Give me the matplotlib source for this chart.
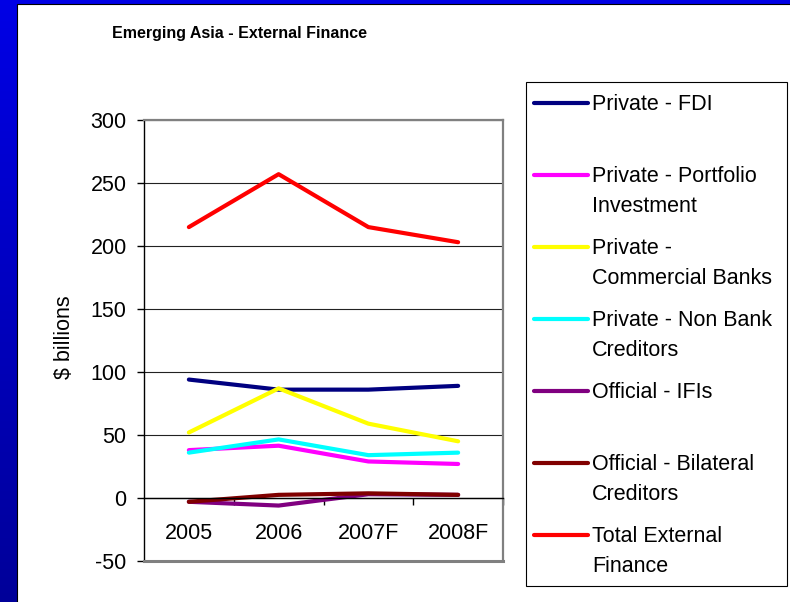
import numpy as np
import matplotlib
matplotlib.use("Agg")
import matplotlib.pyplot as plt
from matplotlib.lines import Line2D
from matplotlib.patches import Rectangle

plt.rcParams['font.family'] = ['Liberation Sans', 'DejaVu Sans']

years = ["2005", "2006", "2007F", "2008F"]
fdi = [94, 86, 86, 89]
portfolio = [38, 41.5, 29, 27]
banks = [52, 87, 59, 45]
non_bank = [36, 46.5, 34, 36]
ifis = [-3, -6, 3, 2.5]
bilateral = [-3, 2.5, 3.7, 2.5]
total = [215, 257, 215, 203]

series = [fdi, portfolio, banks, non_bank, ifis, bilateral, total]
labels = ["Private - FDI", "Private - Portfolio\nInvestment", "Private -\nCommercial Banks",
          "Private - Non Bank\nCreditors", "Official - IFIs", "Official - Bilateral\nCreditors",
          "Total External\nFinance"]
colors = ["#000080", "#FF00FF", "#FFFF00", "#00FFFF", "#800080", "#800000", "#FF0000"]
yticks = [-50, 0, 50, 100, 150, 200, 250, 300]

W, H = 790, 602
fig = plt.figure(figsize=(W / 100, H / 100), dpi=100)


def fx(x):
    return x / W


def fy(y):
    return 1 - y / H


# slide background: blue gradient with a white panel
bg = fig.add_axes([0, 0, 1, 1], zorder=0)
grad = np.linspace(0, 1, 256)[:, None]
cols = np.zeros((256, 1, 3))
cols[:, 0, 2] = 0.90 - 0.30 * grad[:, 0]
bg.imshow(cols, extent=[0, 1, 0, 1], aspect='auto')
bg.add_patch(Rectangle((fx(17), -0.1), 1.1, fy(4) + 0.1, facecolor='white',
                       edgecolor='black', lw=0.8))
bg.set_xlim(0, 1)
bg.set_ylim(0, 1)
bg.axis('off')

# plot area
ax = fig.add_axes([fx(144), fy(561), fx(503) - fx(144), fy(120) - fy(561)], zorder=2)
x = np.arange(len(years))
for vals, c in zip(series, colors):
    ax.plot(x, vals, color=c, lw=3, solid_capstyle='round', solid_joinstyle='round')

ax.set_xlim(-0.5, 3.5)
ax.set_ylim(-50, 300)
ax.set_yticks(yticks)
ax.set_yticklabels([str(v) for v in yticks], fontsize=15.5)
ax.yaxis.grid(True, color='#222222', lw=0.8)
ax.set_axisbelow(True)
ax.tick_params(axis='y', direction='out', length=5, width=1, pad=7.5)

ax.spines['bottom'].set_position(('data', 0))
ax.spines['bottom'].set_color('black')
ax.spines['bottom'].set_linewidth(1)
ax.spines['left'].set_color('black')
ax.spines['left'].set_linewidth(1)
for s in ['top', 'right']:
    ax.spines[s].set_color('#808080')
    ax.spines[s].set_linewidth(1.6)
ax.axhline(-50, color='#808080', lw=2.2, clip_on=False, zorder=3)

ax.set_xticks(x)
ax.set_xticklabels(years, fontsize=15.5)
ax.set_xticks([0.5, 1.5, 2.5, 3.5], minor=True)
ax.tick_params(axis='x', which='major', length=0, pad=18)
ax.tick_params(axis='x', which='minor', direction='out', length=5, width=1)

# title and axis label
fig.text(fx(240), fy(38), "Emerging Asia - External Finance", ha='center', va='baseline',
         fontsize=11.5, fontweight='bold', zorder=5)
fig.text(fx(64), fy(337), "$ billions", rotation=90, ha='center', va='center',
         fontsize=15.5, zorder=5)

# legend box
bg.add_patch(Rectangle((fx(526), fy(586)), fx(787) - fx(526), fy(82) - fy(586),
                       facecolor='white', edgecolor='black', lw=0.8, zorder=4))
for i, (lab, c) in enumerate(zip(labels, colors)):
    yc = 103 + 72 * i
    fig.add_artist(Line2D([fx(534), fx(588)], [fy(yc), fy(yc)], color=c, lw=3,
                          solid_capstyle='round', transform=fig.transFigure, zorder=5))
    for j, line in enumerate(lab.split("\n")):
        fig.text(fx(592), fy(yc + 7.5 + 30 * j), line, ha='left', va='baseline',
                 fontsize=15.5, zorder=5)

fig.savefig("out.png", dpi=100)
